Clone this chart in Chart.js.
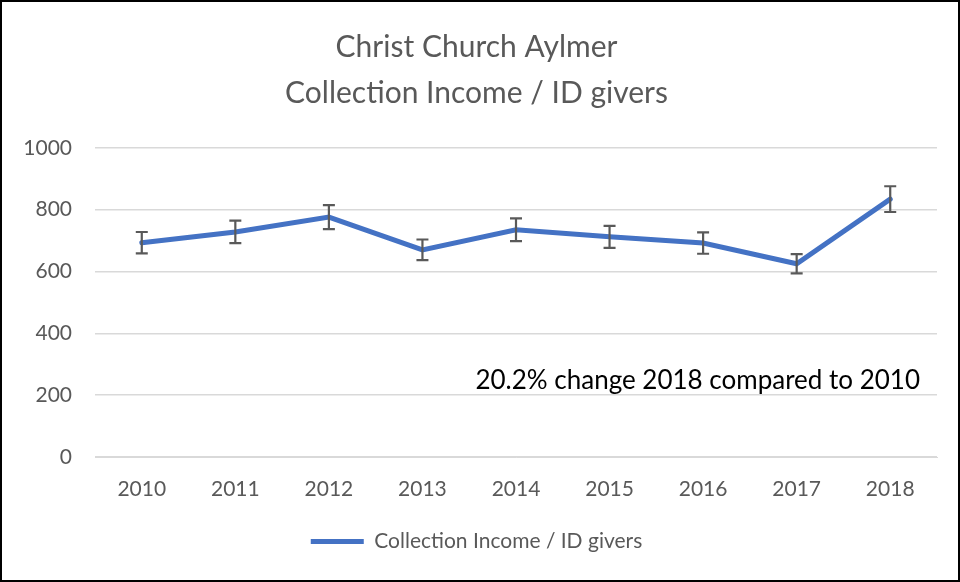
<!DOCTYPE html>
<html>
<head>
<meta charset="utf-8">
<script src="https://cdn.jsdelivr.net/npm/chart.js@4"></script>
<style>
  html, body { margin: 0; padding: 0; background: #fff; }
  #wrap {
    width: 960px; height: 582px; box-sizing: border-box;
    border: 2px solid #000; position: relative; background: #fff;
  }
  canvas { display: block; }
</style>
</head>
<body>
<div id="wrap"><canvas id="incomeChart" width="956" height="578"></canvas></div>
<script>
// chart data
var years = ['2010', '2011', '2012', '2013', '2014', '2015', '2016', '2017', '2018'];
var incomePerGiver = [693, 728, 776, 670, 735, 712, 692, 625, 834];
var errorPct = 0.05; // Excel style 5% error bars
var yTicks = [0, 200, 400, 600, 800, 1000];
var noteText = '20.2% change 2018 compared to 2010';

var gray = '#595959';
var fontFam = 'Lato, "Open Sans", sans-serif';

// draws the +/- 5% error bars and the note text
var extrasPlugin = {
    id: 'extras',
    afterDatasetsDraw: function(chart) {
        var ctx = chart.ctx;
        var xs = chart.scales.x, ys = chart.scales.y;
        ctx.save();
        ctx.strokeStyle = gray;
        ctx.lineWidth = 2.2;
        incomePerGiver.forEach(function(v, i) {
            var x = xs.getPixelForValue(i);
            var top = ys.getPixelForValue(v * (1 + errorPct));
            var bot = ys.getPixelForValue(v * (1 - errorPct));
            ctx.beginPath();
            ctx.moveTo(x, top); ctx.lineTo(x, bot);
            ctx.moveTo(x - 6, top); ctx.lineTo(x + 6, top);
            ctx.moveTo(x - 6, bot); ctx.lineTo(x + 6, bot);
            ctx.stroke();
        });
        ctx.fillStyle = '#000';
        ctx.font = '26px ' + fontFam;
        ctx.textAlign = 'right';
        ctx.textBaseline = 'middle';
        ctx.fillText(noteText, chart.chartArea.right - 17, ys.getPixelForValue(247));
        ctx.restore();
    }
};

var ctx = document.getElementById('incomeChart').getContext('2d');
var incomeChart = new Chart(ctx, {
    type: 'line',
    data: {
        labels: years,
        datasets: [{
            label: 'Collection Income / ID givers',
            data: incomePerGiver,
            borderColor: '#4472C4',
            backgroundColor: '#4472C4',
            borderWidth: 5,
            borderCapStyle: 'round',
            pointRadius: 0,
            tension: 0
        }]
    },
    options: {
        responsive: false,
        animation: false,
        layout: { padding: { left: 14, right: 21, top: 22, bottom: 18 } },
        plugins: {
            title: {
                display: true,
                text: ['Christ Church Aylmer', 'Collection Income / ID givers'],
                color: gray,
                font: { family: fontFam, size: 30, weight: 'normal', lineHeight: 1.53 },
                padding: { top: 0, bottom: 32 }
            },
            legend: {
                position: 'bottom',
                labels: {
                    color: gray,
                    font: { family: fontFam, size: 21 },
                    usePointStyle: true,
                    pointStyle: 'line',
                    pointStyleWidth: 53,
                    padding: 10
                }
            },
            tooltip: { enabled: false }
        },
        scales: {
            x: {
                offset: true,
                grid: { display: false },
                border: { color: '#d9d9d9', width: 1 },
                ticks: { color: gray, font: { family: fontFam, size: 21 }, padding: 12 },
                afterFit: function(axis) { axis.height = 64; }
            },
            y: {
                min: 0,
                max: 1000,
                afterBuildTicks: function(axis) {
                    axis.ticks = yTicks.map(function(v) { return { value: v }; });
                },
                afterFit: function(axis) { axis.width = 79; },
                grid: { color: '#d9d9d9', lineWidth: 1.5, drawTicks: false },
                border: { display: false },
                ticks: {
                    color: gray,
                    font: { family: fontFam, size: 21 },
                    padding: 23,
                    callback: function(v) { return String(v); }
                }
            }
        }
    },
    plugins: [extrasPlugin]
});
</script>
</body>
</html>
